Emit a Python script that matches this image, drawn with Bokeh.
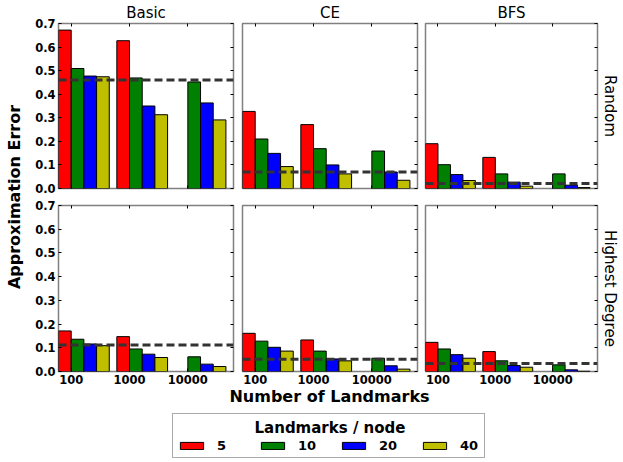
import math
import numpy as np
from bokeh.plotting import figure
from bokeh.models import (Range1d, FixedTicker, LinearAxis, Span, Title, Label,
                          Legend, LegendItem, ColumnDataSource)
from bokeh.layouts import row, column
from bokeh.embed import file_html
from bokeh.resources import INLINE

# ---------------- data ----------------
categories = ["100", "1000", "10000"]
series = ["5", "10", "20", "40"]
colors = ["#ff0000", "#008000", "#0000ff", "#bfbf00"]
methods = ["Basic", "CE", "BFS"]
selections = ["Random", "Highest Degree"]
y_ticks = [0.0, 0.1, 0.2, 0.3, 0.4, 0.5, 0.6, 0.7]
legend_title = "Landmarks / node"

# each panel: one list per series (5, 10, 20, 40), values over categories
random_basic = [[0.672, 0.627, None], [0.509, 0.469, 0.452],
                [0.477, 0.350, 0.363], [0.474, 0.313, 0.291]]
random_ce = [[0.327, 0.271, None], [0.210, 0.169, 0.159],
             [0.149, 0.100, 0.070], [0.093, 0.062, 0.035]]
random_bfs = [[0.190, 0.132, None], [0.101, 0.062, 0.062],
              [0.059, 0.027, 0.014], [0.034, 0.010, 0.004]]
highest_basic = [[0.171, 0.147, None], [0.136, 0.095, 0.062],
                 [0.116, 0.073, 0.031], [0.109, 0.059, 0.021]]
highest_ce = [[0.161, 0.133, None], [0.128, 0.086, 0.056],
              [0.102, 0.053, 0.024], [0.086, 0.045, 0.010]]
highest_bfs = [[0.123, 0.084, None], [0.095, 0.045, 0.028],
               [0.071, 0.025, 0.007], [0.056, 0.018, 0.001]]

random_baseline = [0.460, 0.070, 0.021]
highest_baseline = [0.112, 0.052, 0.034]

panels = [[random_basic, random_ce, random_bfs],
          [highest_basic, highest_ce, highest_bfs]]
baselines = [random_baseline, highest_baseline]

# ---------------- styling ----------------
FONT = "DejaVu Sans"
BAR_W = 0.2175
X_END = 3.0
FRAME_W = 175
YLAB_W = 24
col_borders = [(34, 4), (5, 4), (4, 23)]
row_frames = [165, 166]
row_borders = [(23, 8), (9, 17)]
TOTAL_H = 462


def tick_axis(show_labels, ticks):
    ax = LinearAxis(ticker=FixedTicker(ticks=ticks))
    ax.axis_line_color = None
    ax.major_tick_in = 3
    ax.major_tick_out = 0
    ax.minor_tick_line_color = None
    ax.major_tick_line_color = "black"
    ax.major_tick_line_width = 1
    if show_labels:
        ax.major_label_text_font = FONT
        ax.major_label_text_font_style = "bold"
        ax.major_label_text_font_size = "11.5px"
        ax.major_label_text_color = "black"
        ax.major_label_standoff = 3
    else:
        ax.major_label_text_color = None
        ax.major_label_text_font_size = "0px"
        ax.major_label_standoff = 0
    return ax


def vbars(p, data_rows, visible=True):
    rends = []
    for s in range(len(series)):
        xs = [g + s * BAR_W + BAR_W / 2 for g in range(len(categories))]
        tops = [np.nan if v is None else v for v in data_rows[s]]
        src = ColumnDataSource(dict(x=xs, top=tops))
        rr = p.vbar(x="x", top="top", bottom=0, width=BAR_W, source=src,
                    fill_color=colors[s], line_color="black", line_width=1)
        rr.visible = visible
        rends.append(rr)
    return rends


x_tick_pos = [i + BAR_W for i in range(len(categories))]
x_overrides = {x_tick_pos[i]: categories[i] for i in range(len(categories))}
y_overrides = {t: "%.1f" % t for t in y_ticks}

figs = []
for r in range(2):
    row_figs = []
    for c in range(3):
        bl, br = col_borders[c]
        bt, bb = row_borders[r]
        p = figure(width=bl + FRAME_W + br, height=bt + row_frames[r] + bb,
                   x_range=Range1d(0, X_END), y_range=Range1d(0, 0.7),
                   output_backend="svg", toolbar_location=None,
                   x_axis_location=None, y_axis_location=None,
                   min_border_left=bl, min_border_right=br,
                   min_border_top=bt, min_border_bottom=bb)
        p.xgrid.visible = False
        p.ygrid.visible = False
        p.outline_line_color = "#808080"
        p.outline_line_width = 1.5
        p.background_fill_color = "white"
        p.border_fill_color = "white"

        vbars(p, panels[r][c])

        p.add_layout(Span(location=baselines[r][c], dimension="width",
                          line_color="#333333", line_width=3,
                          line_dash="8 4"))

        bottom = tick_axis(r == 1, x_tick_pos)
        bottom.major_label_overrides = x_overrides
        p.add_layout(bottom, "below")
        p.add_layout(tick_axis(False, x_tick_pos), "above")
        if c == 0:
            left = tick_axis(True, y_ticks)
            left.major_label_overrides = y_overrides
            p.add_layout(left, "left")
        p.add_layout(tick_axis(False, y_ticks), "right")

        if r == 0:
            p.title.text = methods[c]
            p.title.align = "center"
            p.title.text_font = FONT
            p.title.text_font_size = "15px"
            p.title.text_font_style = "normal"
            p.title.text_color = "black"
            p.title.standoff = 3
            p.title.offset = 0
        if c == 2:
            p.add_layout(Title(text=selections[r], align="center",
                               text_font=FONT, text_font_size="15px",
                               text_font_style="normal", text_color="black",
                               standoff=6), "right")
        row_figs.append(p)
    figs.append(row_figs)

grid_h = sum(bt + fh + bb for (bt, bb), fh in zip(row_borders, row_frames))

# y label figure
ylab = figure(width=YLAB_W, height=grid_h, x_range=Range1d(0, YLAB_W),
              y_range=Range1d(0, grid_h), output_backend="svg",
              toolbar_location=None, x_axis_location=None,
              y_axis_location=None, min_border=0, outline_line_color=None)
ylab.xgrid.visible = False
ylab.ygrid.visible = False
ylab.add_layout(Label(x=14, y=grid_h - 196.5, text="Approximation Error",
                      angle=math.pi / 2, text_align="center",
                      text_baseline="middle", text_font=FONT,
                      text_color="black",
                      text_font_style="bold", text_font_size="16px"))

# bottom figure: x-axis label and legend
total_w = YLAB_W + sum(bl + FRAME_W + br for bl, br in col_borders)
leg_h = TOTAL_H - grid_h
legf = figure(width=total_w, height=leg_h, x_range=Range1d(-2, -1),
              y_range=Range1d(0, 1), output_backend="svg",
              toolbar_location=None, x_axis_location=None,
              y_axis_location=None, min_border=0, outline_line_color=None)
legf.xgrid.visible = False
legf.ygrid.visible = False
legf.background_fill_color = "white"
legf.add_layout(Label(x=329, y=leg_h - 7.5, x_units="screen", y_units="screen",
                      text="Number of Landmarks", text_align="center",
                      text_baseline="middle", text_font=FONT,
                      text_color="black",
                      text_font_style="bold", text_font_size="16px"))
# centred legend title
legf.add_layout(Label(x=329.5, y=35, x_units="screen", y_units="screen",
                      text=legend_title, text_align="center",
                      text_baseline="middle", text_font=FONT,
                      text_color="black", text_font_style="bold",
                      text_font_size="15px"))
proxies = vbars(legf, random_basic, visible=False)
items = [LegendItem(label=series[s], renderers=[proxies[s]])
         for s in range(len(series))]
legend = Legend(items=items, orientation="horizontal", location=(172, 4),
                title="\u00a0", title_text_font=FONT,
                title_text_font_style="bold", title_text_font_size="15px",
                title_text_color="black", title_standoff=2,
                label_text_font=FONT, label_text_font_style="bold",
                label_text_font_size="13px", label_text_color="black",
                glyph_width=29, glyph_height=9,
                label_standoff=11, spacing=21, padding=4, margin=0,
                border_line_color="#555555", border_line_width=1,
                background_fill_color=None, background_fill_alpha=0.0,
                inactive_fill_alpha=0.0)
legf.add_layout(legend)

layout = column(row(ylab, column(row(*figs[0]), row(*figs[1]))), legf)

open("out.html", "w").write(file_html(layout, INLINE))
